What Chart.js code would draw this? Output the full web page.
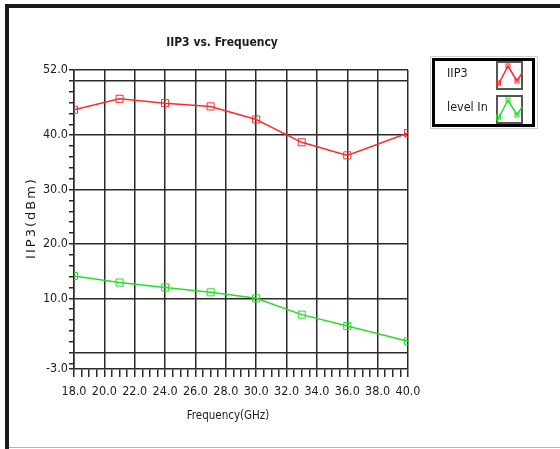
<!DOCTYPE html>
<html>
<head>
<meta charset="utf-8">
<title>IIP3 vs. Frequency</title>
<script src="https://cdn.jsdelivr.net/npm/chart.js@4"></script>
<style>
  html, body { margin: 0; padding: 0; background: #fff; }
  canvas { display: block; }
</style>
</head>
<body>
<canvas id="grafico" width="560" height="449"></canvas>
<script>
const frequencia = [18, 21, 24, 27, 30, 33, 36, 40]
const iip3 = [44.7, 46.7, 45.9, 45.3, 42.9, 38.7, 36.3, 40.4]
const levelIn = [14.1, 12.9, 12.0, 11.1, 10.0, 7.0, 4.9, 2.1]

const labelsX = [18, 20, 22, 24, 26, 28, 30, 32, 34, 36, 38, 40]
const labelsY = [-3, 10, 20, 30, 40, 52]
const gradeY = [0, 10, 20, 30, 40, 50, 52]
const ticksY = [-3, -2, 0, 2, 4, 6, 8, 10, 12, 14, 16, 18, 20, 22, 24, 26, 28, 30,
                32, 34, 36, 38, 40, 42, 44, 46, 48, 50, 52]

// 3 marcas menores entre cada rotulo do eixo X
let ticksX = []
labelsX.forEach((v, i) => {
  ticksX.push(v)
  if (i < labelsX.length - 1) ticksX.push(v + 0.5, v + 1, v + 1.5)
})

const fonte = "'Liberation Sans Narrow', 'DejaVu Sans Condensed', 'Arial Narrow', sans-serif"
const corGrade = '#2a2a2a'

const toXY = (ys) => ys.map((y, i) => ({ x: frequencia[i], y: y }))

// moldura, titulos e legenda no estilo do painel original
const painel = {
  id: 'painel',
  beforeDraw(chart) {
    const c = chart.ctx
    c.save()
    c.fillStyle = '#fff'
    c.fillRect(0, 0, chart.width, chart.height)
    c.fillStyle = '#1a1a1a'
    c.fillRect(5, 4, 555, 4)
    c.fillRect(5, 4, 4, 445)
    c.fillStyle = '#b4b4b4'
    c.fillRect(9, 447, 551, 1)
    c.restore()
  },
  afterDraw(chart) {
    const c = chart.ctx
    c.save()
    c.fillStyle = '#1c1c1c'
    c.textAlign = 'center'
    c.textBaseline = 'middle'

    c.font = 'bold 12px ' + fonte
    c.fillText('IIP3 vs. Frequency', 222, 43)

    c.font = '11.5px ' + fonte
    c.fillText('Frequency(GHz)', 228, 416)

    c.save()
    c.translate(32, 219)
    c.rotate(-Math.PI / 2)
    c.font = "13px 'DejaVu Sans', sans-serif"
    c.letterSpacing = '2px'
    c.fillText('IIP3(dBm)', 1, 0)
    c.restore()

    // legenda
    c.fillStyle = '#fff'
    c.fillRect(432, 58, 104, 69)
    c.strokeStyle = '#cfcfcf'
    c.lineWidth = 1
    c.strokeRect(430.5, 56.5, 107, 72)
    c.strokeStyle = '#000'
    c.lineWidth = 3
    c.strokeRect(433.5, 59.5, 100, 66)

    chart.data.datasets.forEach((ds, i) => {
      const top = 62 + i * 34
      c.fillStyle = '#1c1c1c'
      c.textAlign = 'left'
      c.font = '12.5px ' + fonte
      c.fillText(ds.label, 447, top + 12)

      c.strokeStyle = '#555'
      c.lineWidth = 2
      c.strokeRect(497, top, 25, 27)

      const bx = 496, by = top - 1
      const pts = [[1, 26], [12, 5], [21, 20], [26, 12]]
      c.strokeStyle = ds.borderColor
      c.lineWidth = 1.5
      c.beginPath()
      pts.forEach((p, k) => k ? c.lineTo(bx + p[0], by + p[1]) : c.moveTo(bx + p[0], by + p[1]))
      c.stroke()
      c.lineWidth = 1
      ;[[2.5, 22], [12, 5], [21, 20]].forEach(p => {
        c.strokeRect(bx + p[0] - 2, by + p[1] - 2, 4, 4)
      })
    })
    c.restore()
  }
}

let grafico = new Chart(document.getElementById('grafico'), {
  type: 'line',
  data: {
    datasets: [{
      label: 'IIP3',
      data: toXY(iip3),
      borderColor: '#ff2b2b',
      borderWidth: 1.5,
      pointStyle: 'rect',
      pointRadius: 5,
      pointBorderWidth: 1,
      pointBackgroundColor: 'rgba(0,0,0,0)',
      pointBorderColor: '#ff2b2b',
      tension: 0
    }, {
      label: 'level In',
      data: toXY(levelIn),
      borderColor: '#22e022',
      borderWidth: 1.5,
      pointStyle: 'rect',
      pointRadius: 5,
      pointBorderWidth: 1,
      pointBackgroundColor: 'rgba(0,0,0,0)',
      pointBorderColor: '#22e022',
      tension: 0
    }]
  },
  options: {
    responsive: false,
    animation: false,
    events: [],
    layout: { padding: { left: 0, right: 152, top: 70, bottom: 0 } },
    plugins: {
      legend: { display: false },
      title: { display: false },
      tooltip: { enabled: false }
    },
    scales: {
      x: {
        type: 'linear',
        min: 18,
        max: 40,
        afterBuildTicks: (s) => { s.ticks = ticksX.map(v => ({ value: v })) },
        afterFit: (s) => { s.height = 80 },
        ticks: {
          autoSkip: false,
          maxRotation: 0,
          padding: 7,
          color: '#1c1c1c',
          font: { family: fonte, size: 12.5 },
          callback: (v) => labelsX.includes(v) ? v.toFixed(1) : ''
        },
        grid: {
          color: (g) => labelsX.includes(g.tick.value) ? corGrade : 'rgba(0,0,0,0)',
          tickColor: corGrade,
          lineWidth: 1.5,
          tickLength: 8
        },
        border: { color: corGrade, width: 1.5 }
      },
      y: {
        min: -3,
        max: 52,
        afterBuildTicks: (s) => { s.ticks = ticksY.map(v => ({ value: v })) },
        afterFit: (s) => { s.width = 74 },
        ticks: {
          autoSkip: false,
          padding: 1,
          color: '#1c1c1c',
          font: { family: fonte, size: 12.5 },
          callback: (v) => labelsY.includes(v) ? v.toFixed(1) : ''
        },
        grid: {
          color: (g) => gradeY.includes(g.tick.value) ? corGrade : 'rgba(0,0,0,0)',
          tickColor: corGrade,
          lineWidth: 1.5,
          tickLength: 5
        },
        border: { color: corGrade, width: 1.5 }
      }
    }
  },
  plugins: [painel]
})
</script>
</body>
</html>
